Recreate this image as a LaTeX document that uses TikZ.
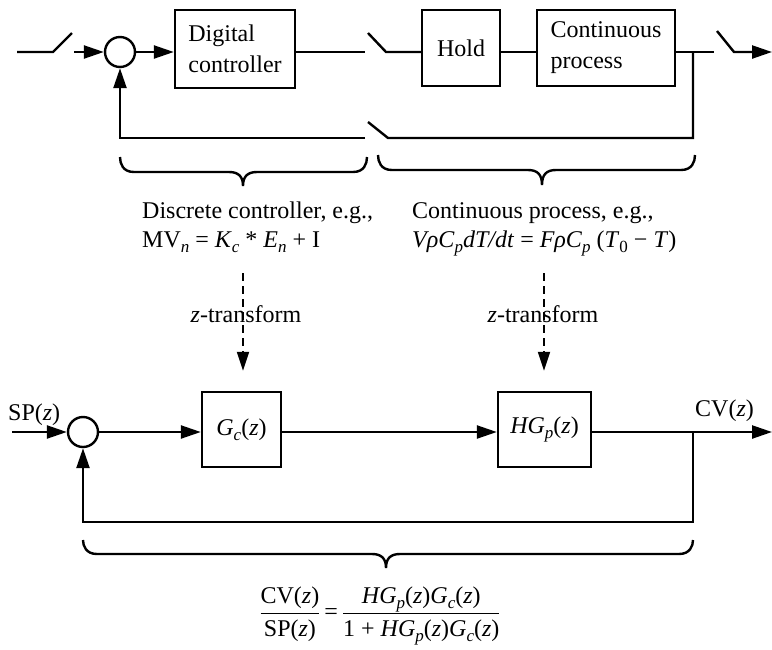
\documentclass[tikz,border=0pt]{standalone}
\usepackage{fontspec}
\setmainfont{Liberation Serif}
\usetikzlibrary{arrows.meta}
\tikzset{
  ln/.style={line width=2.4pt},
  arr/.style={line width=2.4pt,-{Triangle[length=20pt,width=13pt]}},
  blk/.style={draw,line width=2.4pt,inner sep=0pt,align=left,font=\fontsize{24}{31}\selectfont},
  sumc/.style={draw,circle,line width=2.4pt,minimum size=30pt,inner sep=0pt},
  txt/.style={font=\fontsize{24}{29}\selectfont,inner sep=0pt},
  dsh/.style={line width=2pt,dash pattern=on 8pt off 5pt,-{Triangle[length=19pt,width=12pt]}},
}
\newcommand\mybrace[6]{%
  \draw[line width=2.4pt] (#1,#4) .. controls (#1,#5-8) and (#1+3,#5) .. (#1+14,#5)
    -- (#3-14,#5) .. controls (#3-4,#5) and (#3,#5+5) .. (#3,#6)
    .. controls (#3,#5+5) and (#3+4,#5) .. (#3+14,#5)
    -- (#2-14,#5) .. controls (#2-3,#5) and (#2,#5-8) .. (#2,#4);}
\newcommand\sbi[1]{\raisebox{-5pt}{\fontsize{17}{17}\selectfont\textit{#1}}}
\newcommand\sbu[1]{\raisebox{-5pt}{\fontsize{17}{17}\selectfont #1}}
\begin{document}
\begin{tikzpicture}[x=1pt,y=-1pt]
\useasboundingbox (0,0) rectangle (772,649);

% ---------- top (sampled) loop ----------
\coordinate (in0) at (17,52);
\coordinate (s1a) at (53,52);
\coordinate (s1b) at (72,33);
\coordinate (s1c) at (74,52);
\node[sumc] (c1) at (120,52) {};
\node[blk,minimum width=120pt,minimum height=78pt] (dc) at (235,49) {Digital\\controller};
\coordinate (s2a) at (365,52);
\coordinate (s2b) at (368,33);
\coordinate (s2c) at (386,52);
\node[blk,minimum width=78pt,minimum height=76pt] (hold) at (461,48) {Hold};
\node[blk,minimum width=138pt,minimum height=76pt] (cp) at (606,48) {Continuous\\process};
\coordinate (tap1) at (693,52);
\coordinate (s3a) at (714,52);
\coordinate (s3b) at (717,31);
\coordinate (s3c) at (734,52);
\coordinate (out1) at (772,52);
\coordinate (fb1) at (693,138);
\coordinate (s4a) at (388,138);
\coordinate (s4b) at (368,122);
\coordinate (s4c) at (365,138);
\coordinate (fb2) at (120,138);

\draw[ln] (in0) -- (s1a) -- (s1b);
\draw[arr] (s1c) -- (c1);
\draw[arr] (c1) -- (dc.west |- c1);
\draw[ln] (dc.east |- c1) -- (s2a);
\draw[ln] (s2b) -- (s2c) -- (hold.west |- s2c);
\draw[ln] (hold.east |- s2c) -- (cp.west |- s2c);
\draw[ln] (cp.east |- s2c) -- (s3a);
\draw[arr] (s3b) -- (s3c) -- (out1);
\draw[ln] (tap1) -- (fb1) -- (s4a) -- (s4b);
\draw[arr] (s4c) -- (fb2) -- (c1);

% ---------- braces and texts ----------
\mybrace{120}{367}{243}{157}{172}{186}
\mybrace{378}{695}{542}{155}{170}{185}

\node[txt,anchor=base west] (t1) at (142,218) {Discrete controller, e.g.,};
\node[txt,anchor=base west] (t2) at (142,247) {MV\sbi{n} = \textit{K}\sbi{c} * \textit{E}\sbi{n} + I};
\node[txt,anchor=base west] (t3) at (412,218) {Continuous process, e.g.,};
\node[txt,anchor=base west] (t4) at (412,247) {\textit{VρC}\sbi{p}\textit{dT/dt} = \textit{FρC}\sbi{p} (\textit{T}\sbu{0} − \textit{T})};

\node[txt,anchor=base] (z1) at (246,322) {\textit{z}-transform};
\node[txt,anchor=base] (z2) at (543,322) {\textit{z}-transform};

% ---------- bottom (z-domain) loop ----------
\coordinate (in2) at (12,432);
\node[sumc] (c2) at (83,432) {};
\node[blk,minimum width=79pt,minimum height=75pt] (gc) at (241.5,429.5) {\textit{G}\sbi{c}(\textit{z})};
\node[blk,minimum width=93pt,minimum height=75pt] (hgp) at (544.5,429.5) {\textit{HG}\sbi{p}(\textit{z})};
\coordinate (tap2) at (693,432);
\coordinate (out2) at (772,432);
\coordinate (fb3) at (693,522);
\coordinate (fb4) at (83,522);
\coordinate (d1) at (243,273);
\coordinate (d2) at (544,273);

\draw[dsh] (d1) -- ([yshift=20pt]gc.north -| d1);
\draw[dsh] (d2) -- ([yshift=20pt]hgp.north -| d2);

\node[txt,anchor=base west] (sp) at (8,420) {SP(\textit{z})};
\node[txt,anchor=base west] (cv) at (695,416) {CV(\textit{z})};

\draw[arr] (in2) -- (c2);
\draw[arr] (c2) -- (gc.west |- c2);
\draw[arr] (gc.east |- c2) -- (hgp.west |- c2);
\draw[arr] (hgp.east |- c2) -- (out2);
\draw[arr] (tap2) -- (fb3) -- (fb4) -- (c2);

\mybrace{83}{693}{386}{540}{554}{568}

\node[txt] (frac) at (380,616) {$\displaystyle\frac{\mbox{CV(\textit{z})}}{\mbox{SP(\textit{z})}}\mbox{\,=\,}\frac{\mbox{\textit{HG}\sbi{p}(\textit{z})\textit{G}\sbi{c}(\textit{z})}}{\mbox{1 + \textit{HG}\sbi{p}(\textit{z})\textit{G}\sbi{c}(\textit{z})}}$};
\end{tikzpicture}
\end{document}
